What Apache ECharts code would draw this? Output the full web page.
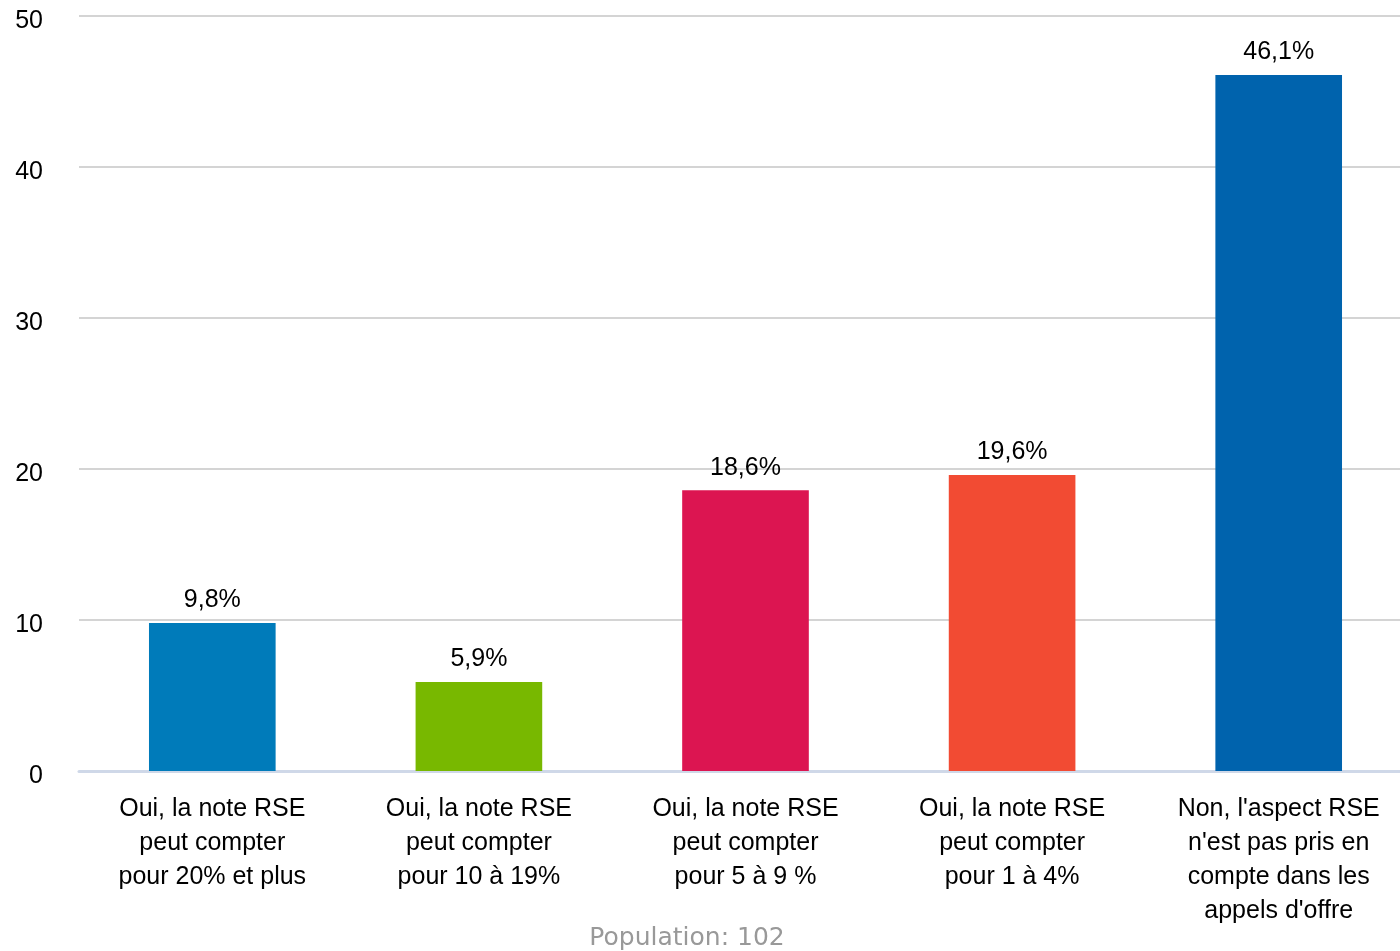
<!DOCTYPE html>
<html>
<head>
<meta charset="utf-8">
<script src="https://cdn.jsdelivr.net/npm/echarts@6/dist/echarts.min.js"></script>
<style>
  html, body { margin: 0; padding: 0; background: #fff; }
  #chart { width: 1400px; height: 951px; }
</style>
</head>
<body>
<div id="chart"></div>
<script>
var categories = [
    "Oui, la note RSE\npeut compter\npour 20% et plus",
    "Oui, la note RSE\npeut compter\npour 10 à 19%",
    "Oui, la note RSE\npeut compter\npour 5 à 9 %",
    "Oui, la note RSE\npeut compter\npour 1 à 4%",
    "Non, l'aspect RSE\nn'est pas pris en\ncompte dans les\nappels d'offre"
]
var values = [9.8, 5.9, 18.6, 19.6, 46.1]
var barColors = ['#007bba', '#78b800', '#dc1551', '#f24b33', '#0063ad']
var footnote = 'Population: 102'

var myChart = echarts.init(document.getElementById('chart'))
var option = {
    animation: false,
    textStyle: { fontFamily: 'Liberation Sans, Arial, sans-serif' },
    grid: {
        left: 79,
        width: 1333,
        top: 16,
        bottom: 180,
        outerBoundsMode: 'none'
    },
    graphic: [{
        type: 'text',
        x: 687,
        y: 938,
        style: {
            text: footnote,
            fill: '#999999',
            font: '25px "DejaVu Sans", sans-serif',
            textAlign: 'center',
            textVerticalAlign: 'middle'
        }
    }],
    xAxis: {
        type: 'category',
        data: categories,
        axisTick: { show: false },
        axisLine: { lineStyle: { color: '#cfd8e8', width: 3 } },
        axisLabel: {
            color: '#000',
            fontSize: 25,
            lineHeight: 34,
            margin: 21,
            interval: 0
        }
    },
    yAxis: {
        type: 'value',
        min: 0,
        max: 50,
        interval: 10,
        axisLine: { show: false },
        axisTick: { show: false },
        axisLabel: {
            color: '#000',
            fontSize: 25,
            margin: 36,
            verticalAlign: 'top',
            lineHeight: 10
        },
        splitLine: { lineStyle: { color: '#d4d4d4', width: 2 } }
    },
    series: [{
        type: 'bar',
        barWidth: '47.5%',
        data: values.map(function (v, i) {
            return { value: v, itemStyle: { color: barColors[i] } }
        }),
        label: {
            show: true,
            position: 'top',
            distance: 10,
            color: '#000',
            fontSize: 25,
            formatter: function (p) {
                return String(p.value).replace('.', ',') + '%'
            }
        }
    }]
}
myChart.setOption(option, true)
</script>
</body>
</html>
